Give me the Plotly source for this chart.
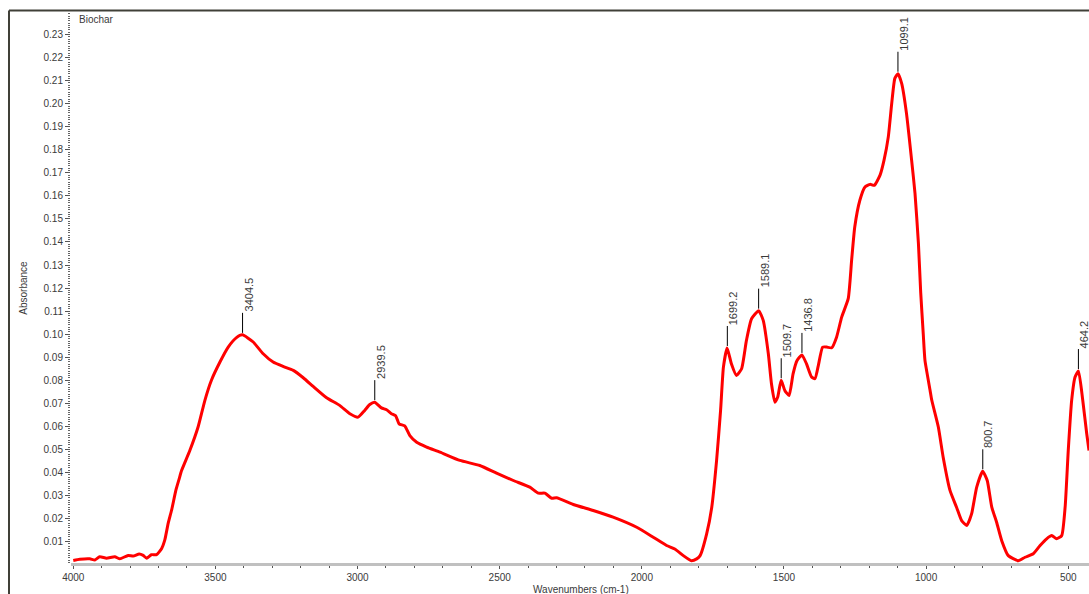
import plotly.graph_objects as go

# Spectrum (wavenumber cm-1, absorbance)
wavenumbers = [4000, 3977, 3942, 3924, 3907, 3883, 3854, 3836, 3807, 3789, 3768, 3754, 3742, 3725,
               3707, 3689, 3678, 3666, 3654, 3639, 3628, 3619, 3590, 3561, 3537, 3514, 3484, 3455,
               3426, 3405, 3367, 3332, 3297, 3262, 3226, 3191, 3156, 3109, 3063, 3027, 2998, 2975,
               2957, 2940, 2916, 2898, 2881, 2866, 2854, 2834, 2816, 2792, 2757, 2710, 2640, 2570,
               2511, 2452, 2394, 2364, 2341, 2317, 2300, 2241, 2171, 2101, 2018, 1960, 1913, 1884,
               1854, 1831, 1825, 1807, 1795, 1772, 1754, 1737, 1723, 1713, 1700, 1685, 1667, 1649,
               1632, 1614, 1589, 1573, 1555, 1544, 1532, 1522, 1510, 1497, 1482, 1468, 1454, 1437,
               1421, 1403, 1391, 1379, 1364, 1350, 1332, 1315, 1297, 1274, 1262, 1251, 1233, 1215,
               1197, 1182, 1162, 1148, 1133, 1121, 1110, 1099, 1086, 1069, 1051, 1039, 1027, 1019,
               1010, 1004, 986, 980, 957, 940, 916, 893, 875, 857, 840, 822, 801, 785, 769, 752,
               734, 711, 676, 652, 623, 599, 576, 558, 541, 523, 511, 500, 488, 476, 464, 449,
               435, 427]
absorbance = [0.0018, 0.0023, 0.0025, 0.0020, 0.0034, 0.0028, 0.0034, 0.0025, 0.0040, 0.0037, 0.0046,
              0.0040, 0.0028, 0.0043, 0.0043, 0.0070, 0.0107, 0.0180, 0.0237, 0.0323, 0.0370, 0.0408,
              0.0495, 0.0597, 0.0713, 0.0800, 0.0879, 0.0944, 0.0985, 0.0997, 0.0966, 0.0915, 0.0879,
              0.0860, 0.0843, 0.0811, 0.0773, 0.0724, 0.0691, 0.0655, 0.0640, 0.0669, 0.0695, 0.0705,
              0.0680, 0.0672, 0.0655, 0.0646, 0.0611, 0.0602, 0.0560, 0.0531, 0.0510, 0.0488, 0.0452,
              0.0430, 0.0397, 0.0365, 0.0336, 0.0310, 0.0310, 0.0288, 0.0290, 0.0261, 0.0235, 0.0206,
              0.0162, 0.0119, 0.0083, 0.0068, 0.0039, 0.0020, 0.0017, 0.0025, 0.0039, 0.0133, 0.0249,
              0.0452, 0.0669, 0.0857, 0.0940, 0.0872, 0.0821, 0.0850, 0.0973, 0.1067, 0.1102, 0.1060,
              0.0915, 0.0785, 0.0705, 0.0727, 0.0800, 0.0756, 0.0734, 0.0828, 0.0886, 0.0910, 0.0872,
              0.0814, 0.0807, 0.0865, 0.0944, 0.0944, 0.0941, 0.0987, 0.1074, 0.1154, 0.1321, 0.1465,
              0.1581, 0.1639, 0.1650, 0.1646, 0.1690, 0.1755, 0.1856, 0.2001, 0.2110, 0.2130, 0.2088,
              0.1958, 0.1755, 0.1610, 0.1393, 0.1180, 0.1000, 0.0886, 0.0756, 0.0713, 0.0597, 0.0466,
              0.0322, 0.0249, 0.0191, 0.0170, 0.0220, 0.0336, 0.0405, 0.0365, 0.0249, 0.0184, 0.0104,
              0.0039, 0.0017, 0.0032, 0.0047, 0.0083, 0.0112, 0.0126, 0.0112, 0.0126, 0.0249, 0.0495,
              0.0713, 0.0814, 0.0840, 0.0713, 0.0568, 0.0495]

peak_labels = ["3404.5", "2939.5", "1699.2", "1589.1", "1509.7", "1436.8", "1099.1", "800.7", "464.2"]
peak_wn = [3404.5, 2939.5, 1699.2, 1589.1, 1509.7, 1436.8, 1099.1, 800.7, 464.2]
peak_abs = [0.0997, 0.0705, 0.0940, 0.1102, 0.0800, 0.0910, 0.2130, 0.0405, 0.0840]

x_tick_vals = [4000, 3500, 3000, 2500, 2000, 1500, 1000, 500]
sample_name = "Biochar"

TXT = "#3a3a3a"
FONT = "Liberation Sans, Arial, sans-serif"
NARROW = "Liberation Sans Narrow, Arial Narrow, Liberation Sans, sans-serif"

fig = go.Figure()
fig.add_trace(go.Scatter(x=wavenumbers, y=absorbance, mode="lines",
                         line=dict(color="#ff0000", width=3, shape="spline", smoothing=0.5),
                         hoverinfo="skip", showlegend=False))

shapes = []
annotations = []
for lab, wn, ab in zip(peak_labels, peak_wn, peak_abs):
    shapes.append(dict(type="line", xref="x", yref="y", ysizemode="pixel", yanchor=ab,
                       x0=wn, x1=wn, y0=2, y1=22, line=dict(color="#000000", width=1)))
    annotations.append(dict(x=wn, y=ab, xref="x", yref="y", text=lab, showarrow=False,
                            textangle=-90, xanchor="center", yanchor="bottom",
                            xshift=6, yshift=21, font=dict(family=NARROW, size=11, color=TXT)))

# outer frame lines (left and top)
shapes.append(dict(type="line", xref="paper", yref="paper", x0=-0.0609, x1=-0.0609,
                   y0=1.0027, y1=-0.07, line=dict(color="#404038", width=2)))
shapes.append(dict(type="line", xref="paper", yref="paper", x0=-0.0609, x1=1.01,
                   y0=1.0027, y1=1.0027, line=dict(color="#404038", width=2)))

annotations.append(dict(x=0.0059, y=0.9855, xref="paper", yref="paper", text=sample_name,
                        showarrow=False, xanchor="left", yanchor="middle",
                        font=dict(family=FONT, size=10, color=TXT)))
annotations.append(dict(x=-0.0475, y=0.499, xref="paper", yref="paper", text="Absorbance",
                        showarrow=False, textangle=-90, xanchor="center", yanchor="middle",
                        font=dict(family=FONT, size=10, color=TXT)))
annotations.append(dict(x=0.501, y=-0.0472, xref="paper", yref="paper", text="Wavenumbers (cm-1)",
                        showarrow=False, xanchor="center", yanchor="middle",
                        font=dict(family=FONT, size=10, color=TXT)))

fig.update_layout(
    width=1089, height=594,
    margin=dict(l=71, r=0, t=12, b=31),
    paper_bgcolor="white", plot_bgcolor="white",
    shapes=shapes, annotations=annotations,
    xaxis=dict(range=[4008, 427], tickvals=x_tick_vals,
               ticktext=[str(v) for v in x_tick_vals],
               showgrid=False, zeroline=False, showline=True, linecolor="#c0c0c0", linewidth=3,
               ticks="outside", ticklen=3, tickcolor="#555555", tickwidth=1,
               minor=dict(dtick=100, tick0=0, ticks="outside", ticklen=2, tickcolor="#555555"),
               tickfont=dict(family=FONT, size=10, color=TXT)),
    yaxis=dict(range=[0.0007, 0.2398], tick0=0.01, dtick=0.01, tickformat=".2f",
               showgrid=False, zeroline=False, showline=False,
               ticks="outside", ticklen=5, tickcolor="#555555", tickwidth=1,
               minor=dict(dtick=0.001, tick0=0, ticks="outside", ticklen=2, tickcolor="#666666"),
               tickfont=dict(family=FONT, size=10, color=TXT)),
)

# remove the page's default body margin so the figure fills the window exactly
fig.write_html("out.html", config={"displayModeBar": False},
               post_script="document.body.style.margin='0';document.body.style.overflow='hidden';")
